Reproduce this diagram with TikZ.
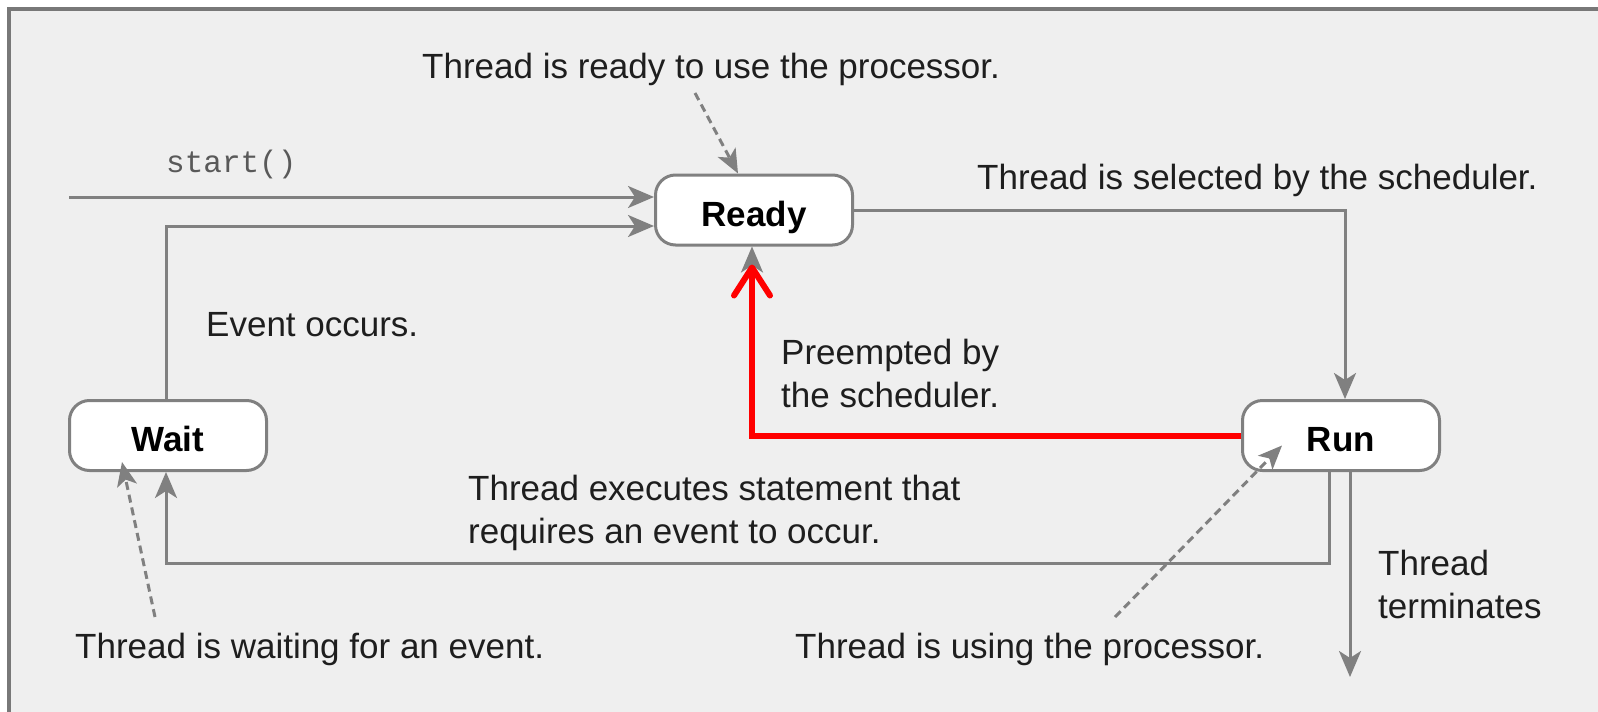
\documentclass[tikz,border=0pt]{standalone}
\usepackage{fontspec}
\setmainfont{Liberation Sans}
\setmonofont{Liberation Mono}
\usetikzlibrary{arrows.meta}
\definecolor{bg}{RGB}{239,239,239}
\definecolor{ln}{RGB}{128,128,128}
\definecolor{frame}{RGB}{120,120,120}
\definecolor{txt}{RGB}{30,30,30}
\begin{document}
\begin{tikzpicture}[x=1pt,y=-1pt,
  state/.style={draw=ln, line width=3pt, fill=white, rounded corners=20pt, minimum width=197pt, minimum height=70pt, inner sep=0pt, text height=32pt, text depth=0pt, font=\fontsize{35}{42}\selectfont\bfseries, text=black},
  lbl/.style={anchor=base west, inner sep=0pt, font=\fontsize{35}{43}\selectfont, text=txt, align=left},
  flow/.style={draw=ln, line width=3pt, -{Stealth[length=26pt,width=22pt,inset=7pt]}},
  note/.style={draw=ln, line width=3pt, dash pattern=on 8pt off 5pt, -{Stealth[length=24pt,width=20pt,inset=6pt]}},
  hot/.style={draw=red, line width=6pt, -{Straight Barb[length=28pt,width=36pt,line cap=round,line join=round]}}
]
\useasboundingbox (0,0) rectangle (1598,712);
\fill[white] (0,0) rectangle (1598,712);
\fill[bg] (9,9) rectangle (1598,712);
\draw[frame, line width=3.5pt] (9,712) -- (9,9) -- (1598,9);

% states
\node[state] (Ready) at (754,210) {Ready};
\node[state] (Run) at (1341,435.5) {Run};
\node[state] (Wait) at (168,435.5) {Wait};

% free ends
\coordinate (s0) at (69,197);
\coordinate (fin) at (1350,677);
\coordinate (n1) at (695,93);
\coordinate (n2) at (155,617);
\coordinate (n3) at (1115,617);

% connectors
\draw[flow] (s0) -- (s0 -| Ready.west);
\draw[flow] ([xshift=-2pt]Wait.north) |- ([yshift=-16pt]Ready.west);
\draw[flow] (Ready.east) -| ([xshift=4pt]Run.north);
\draw[flow] ([xshift=-12pt]Run.south) -- ++(0,91) -| ([xshift=-2pt]Wait.south);
\draw[flow] ([xshift=9pt]Run.south) -- (fin);
\draw[flow] (Run.west) -| ([xshift=-2pt]Ready.south);
\draw[hot, shorten >=18pt] (Run.west) -| ([xshift=-2pt]Ready.south);

% dashed pointers
\draw[note] (n1) -- ([xshift=-16pt]Ready.north);
\draw[note] (n2) -- ([xshift=-46pt,yshift=10pt]Wait.south);
\draw[note] (n3) -- ([xshift=-59pt,yshift=-10pt]Run.center);

% labels (multi-line nodes: base anchor is the last line's baseline)
\node[lbl] (tReady) at (422,78) {Thread is ready to use the processor.};
\node[lbl, font=\fontsize{31}{36}\selectfont\ttfamily, text=black!65] (tStart) at (166,172) {start()};
\node[lbl] (tSel) at (977,189) {Thread is selected by the scheduler.};
\node[lbl] (tEvt) at (206,336) {Event occurs.};
\node[lbl] (tPre) at (781,407) {Preempted by\\the scheduler.};
\node[lbl] (tExe) at (468,543) {Thread executes statement that\\requires an event to occur.};
\node[lbl] (tTerm) at (1378,618) {Thread\\terminates};
\node[lbl] (tWait) at (75,658) {Thread is waiting for an event.};
\node[lbl] (tUse) at (795,658) {Thread is using the processor.};
\end{tikzpicture}
\end{document}
